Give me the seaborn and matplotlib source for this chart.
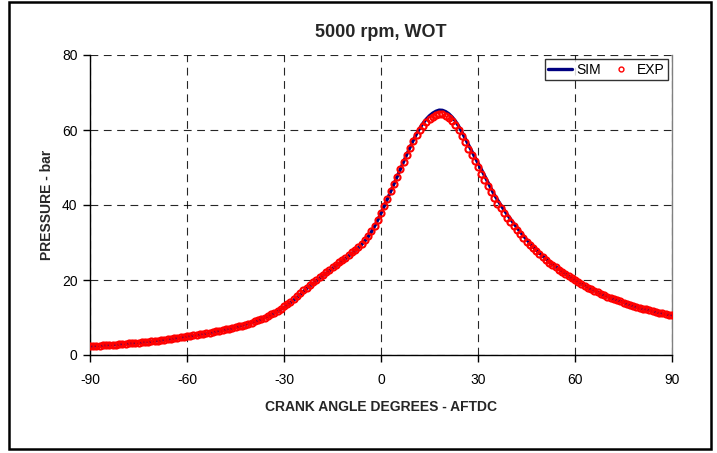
import matplotlib
matplotlib.use("Agg")
import matplotlib.pyplot as plt
from matplotlib.patches import Rectangle
import seaborn as sns
import pandas as pd

# ---------------- data ----------------
angle = list(range(-90, 91))

sim_pressure = [
    2.30, 2.36, 2.42, 2.48, 2.54, 2.60,
    2.66, 2.72, 2.79, 2.85, 2.92,
    2.99, 3.07, 3.14, 3.22, 3.30,
    3.38, 3.47, 3.55, 3.64, 3.73,
    3.84, 3.95, 4.06, 4.18, 4.30,
    4.42, 4.55, 4.68, 4.81, 4.95,
    5.08, 5.22, 5.36, 5.50, 5.65,
    5.80, 5.96, 6.12, 6.28, 6.45,
    6.63, 6.81, 7.00, 7.20, 7.40,
    7.63, 7.86, 8.11, 8.37, 8.65,
    8.95, 9.26, 9.60, 9.94, 10.30,
    10.70, 11.14, 11.62, 12.14, 12.70,
    13.30, 13.95, 14.62, 15.40, 16.20,
    16.95, 17.68, 18.40, 19.10, 19.80,
    20.47, 21.13, 21.79, 22.45, 23.10,
    23.75, 24.40, 25.05, 25.70, 26.40,
    27.10, 27.80, 28.60, 29.45, 30.40,
    31.50, 32.80, 34.30, 36.00, 37.80,
    39.70, 41.65, 43.60, 45.60, 47.60,
    49.60, 51.60, 53.55, 55.45, 57.30,
    59.00, 60.50, 61.80, 62.90, 63.80,
    64.50, 65.00, 65.30, 65.25, 64.90,
    64.30, 63.45, 62.40, 61.05, 59.50,
    57.85, 56.15, 54.45, 52.80, 51.20,
    49.55, 47.85, 46.15, 44.45, 42.80,
    41.40, 40.05, 38.75, 37.50, 36.30,
    35.15, 34.05, 32.90, 31.85, 30.80,
    29.85, 28.95, 28.05, 27.20, 26.40,
    25.65, 24.90, 24.20, 23.55, 22.90,
    22.30, 21.70, 21.10, 20.55, 20.00,
    19.50, 19.00, 18.50, 18.05, 17.60,
    17.18, 16.77, 16.38, 15.98, 15.60,
    15.27, 14.94, 14.62, 14.30, 14.00,
    13.71, 13.42, 13.14, 12.87, 12.60,
    12.37, 12.15, 11.93, 11.71, 11.50,
    11.31, 11.12, 10.94, 10.77, 10.60,
]

exp_pressure = [
    2.30, 2.36, 2.42, 2.48, 2.54, 2.60,
    2.66, 2.72, 2.79, 2.85, 2.92,
    2.99, 3.07, 3.14, 3.22, 3.30,
    3.38, 3.47, 3.55, 3.64, 3.73,
    3.84, 3.95, 4.06, 4.18, 4.30,
    4.42, 4.55, 4.68, 4.81, 4.95,
    5.08, 5.22, 5.36, 5.50, 5.65,
    5.80, 5.96, 6.12, 6.28, 6.45,
    6.63, 6.81, 7.00, 7.20, 7.40,
    7.63, 7.86, 8.11, 8.37, 8.65,
    8.95, 9.28, 9.64, 10.00, 10.40,
    10.82, 11.30, 11.82, 12.38, 12.95,
    13.58, 14.24, 14.92, 15.70, 16.50,
    17.25, 17.98, 18.70, 19.40, 20.10,
    20.77, 21.43, 22.09, 22.75, 23.40,
    24.05, 24.70, 25.35, 26.00, 26.70,
    27.35, 28.05, 28.85, 29.70, 30.60,
    31.65, 32.95, 34.45, 36.10, 37.90,
    39.75, 41.70, 43.65, 45.60, 47.55,
    49.50, 51.45, 53.35, 55.20, 56.95,
    58.55, 59.95, 61.15, 62.15, 62.95,
    63.55, 63.95, 64.20, 64.15, 63.85,
    63.25, 62.35, 61.25, 59.90, 58.35,
    56.70, 55.00, 53.30, 51.65, 50.05,
    48.40, 46.70, 45.00, 43.35, 41.75,
    40.40, 39.10, 37.85, 36.65, 35.50,
    34.40, 33.35, 32.25, 31.25, 30.25,
    29.35, 28.50, 27.65, 26.85, 26.05,
    25.35, 24.65, 23.95, 23.35, 22.70,
    22.15, 21.55, 21.00, 20.45, 19.90,
    19.45, 18.95, 18.45, 18.00, 17.55,
    17.14, 16.73, 16.34, 15.95, 15.57,
    15.24, 14.91, 14.60, 14.28, 13.98,
    13.69, 13.40, 13.12, 12.85, 12.58,
    12.36, 12.14, 11.92, 11.70, 11.49,
    11.30, 11.11, 10.93, 10.76, 10.60,
]

x_ticks = [-90, -60, -30, 0, 30, 60, 90]
y_ticks = [0, 20, 40, 60, 80]

title = "5000 rpm, WOT"
x_label = "CRANK ANGLE DEGREES - AFTDC"
y_label = "PRESSURE - bar"

sim_df = pd.DataFrame({"angle": angle, "pressure": sim_pressure})
exp_df = pd.DataFrame({"angle": angle, "pressure": exp_pressure})

# ---------------- style ----------------
sns.set_style("white")
plt.rcParams["font.family"] = ["Liberation Sans", "DejaVu Sans"]

fig = plt.figure(figsize=(7.17, 4.53), dpi=100)
ax = fig.add_axes([90 / 717, 1 - 355 / 453, (672 - 90) / 717, (355 - 55) / 453])

sns.lineplot(data=sim_df, x="angle", y="pressure", ax=ax, color="#000080",
             linewidth=2.4, label="SIM", sort=False, estimator=None, zorder=3)
sns.lineplot(data=exp_df, x="angle", y="pressure", ax=ax, linestyle="",
             marker="o", markersize=4.4, markerfacecolor="none",
             markeredgecolor="#ff0000", markeredgewidth=1.5, color="#ff0000",
             label="EXP", sort=False, estimator=None, zorder=4)

ax.set_xlim(-90, 90)
ax.set_ylim(0, 80)
ax.set_xticks(x_ticks)
ax.set_yticks(y_ticks)
ax.set_xticklabels([str(t) for t in x_ticks], fontsize=10)
ax.set_yticklabels([str(t) for t in y_ticks], fontsize=10)

ax.grid(True, which="major", color="#000000", linestyle=(0, (7, 5)),
        linewidth=0.8, alpha=0.85)
ax.set_axisbelow(True)

for side in ["left", "bottom"]:
    ax.spines[side].set_color("black")
    ax.spines[side].set_linewidth(1.0)
ax.spines["top"].set_visible(False)
ax.spines["right"].set_color("#808080")
ax.spines["right"].set_linewidth(1.0)

ax.tick_params(axis="both", direction="out", length=5, width=1, color="black",
               labelcolor="black", bottom=True, left=True)
ax.tick_params(axis="x", pad=8)
ax.tick_params(axis="y", pad=4)

ax.set_xlabel(x_label, fontsize=10, fontweight="bold", labelpad=9)
ax.set_ylabel(y_label, fontsize=10, fontweight="bold", labelpad=6)
ax.set_title(title, fontsize=13, fontweight="bold", pad=13)

leg = ax.legend(loc="upper right", ncol=2, fontsize=10, frameon=True,
                fancybox=False, handlelength=1.7, handletextpad=0.3,
                columnspacing=0.6, borderpad=0.25, borderaxespad=0.3)
leg.get_frame().set_edgecolor("black")
leg.get_frame().set_linewidth(1.0)
for t in leg.get_texts():
    t.set_color("black")
for h in leg.legend_handles:
    try:
        h.set_markeredgewidth(1.0)
        h.set_markersize(3.5)
    except Exception:
        pass

# figure border
fig.patches.append(Rectangle((9 / 717, 1 - 449 / 453), (711 - 9) / 717, (449 - 2) / 453,
                             transform=fig.transFigure, fill=False,
                             edgecolor="black", linewidth=1.8, zorder=10))

fig.savefig("out.png", dpi=100)
